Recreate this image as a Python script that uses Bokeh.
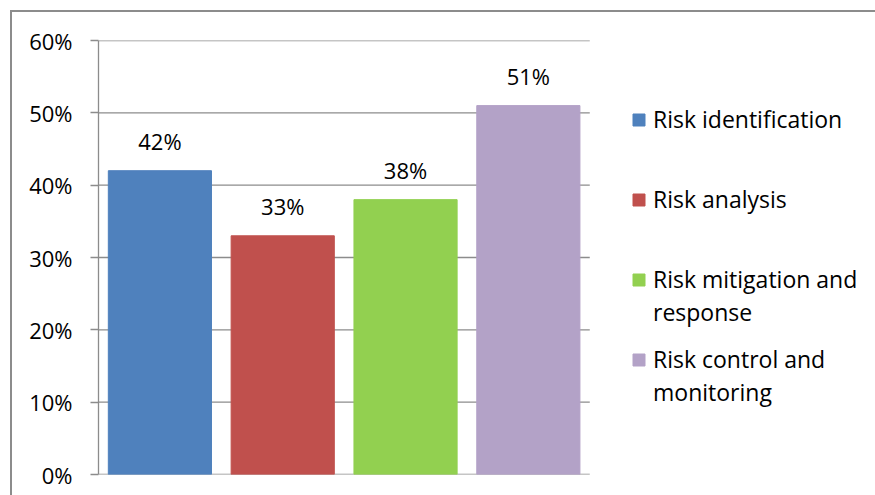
from bokeh.plotting import figure
from bokeh.models import ColumnDataSource, Legend, LegendItem, NumeralTickFormatter, FixedTicker, Range1d
from bokeh.core.properties import value
from bokeh.embed import file_html
from bokeh.resources import INLINE

categories = ["Risk identification", "Risk analysis", "Risk mitigation and response", "Risk control and monitoring"]
legend_lines = [["Risk identification"], ["Risk analysis"], ["Risk mitigation and", "response"],
                ["Risk control and", "monitoring"]]
values = [0.42, 0.33, 0.38, 0.51]
value_labels = ["42%", "33%", "38%", "51%"]
colors = ["#4F81BD", "#C0504D", "#92D050", "#B3A2C7"]
y_ticks = [0, 0.1, 0.2, 0.3, 0.4, 0.5, 0.6]

FONT = "Open Sans"
GRAY = "#8C8C8C"

# layout (pixels)
W, H = 863, 483
LEFT, TOP, BOTTOM = 86, 28, 23
PLOT_W = 490                     # width of the bar area
FRAME_W = W - LEFT
FRAME_H = H - TOP - BOTTOM
LEG_X = 533                      # legend x from frame left
LEG_FIRST = [77, 157, 237, 317]  # first-line centre of each entry, from frame top
LINE_STEP = 33
ITEM_H = 32

n = len(categories)
xs = list(range(n))
source = ColumnDataSource(dict(x=xs, cat=categories, val=values, lab=value_labels, col=colors))

x_end = -0.5 + n * FRAME_W / PLOT_W
p = figure(x_range=Range1d(-0.5, x_end), y_range=Range1d(0, 0.6), width=W, height=H,
           output_backend="svg", toolbar_location=None,
           min_border_left=LEFT, min_border_right=0, min_border_top=TOP, min_border_bottom=BOTTOM)
p.margin = (10, 0, 0, 10)
p.styles = {"border-top": "2px solid #8C8C8C", "border-left": "2px solid #8C8C8C", "box-sizing": "content-box"}

# horizontal gridlines limited to the bar area
p.segment(x0=[-0.5] * len(y_ticks), x1=[n - 0.5] * len(y_ticks), y0=y_ticks, y1=y_ticks,
          line_color=GRAY, line_width=1.3)

bars = p.vbar(x="x", top="val", width=0.84, color="col", source=source)
p.text(x="x", y="val", text="lab", source=source, text_align="center", text_baseline="bottom",
       y_offset=-15, text_font=value(FONT), text_font_size="22px", text_color="black")

# invisible renderer used for continuation lines of the legend labels
blank = p.vbar(x=[], top=[], width=0.5, fill_alpha=0, line_alpha=0)

p.outline_line_color = None
p.background_fill_color = "white"
p.border_fill_color = "white"
p.grid.grid_line_color = None

p.xaxis.visible = False

p.yaxis.ticker = FixedTicker(ticks=y_ticks)
p.yaxis.formatter = NumeralTickFormatter(format="0%")
p.yaxis.axis_line_color = GRAY
p.yaxis.axis_line_width = 1.3
p.yaxis.major_tick_line_color = GRAY
p.yaxis.major_tick_line_width = 1.3
p.yaxis.major_tick_out = 8
p.yaxis.major_tick_in = 0
p.yaxis.minor_tick_line_color = None
p.yaxis.major_label_text_font = FONT
p.yaxis.major_label_text_font_size = "22px"
p.yaxis.major_label_text_color = "black"
p.yaxis.major_label_standoff = 18

for i in range(n):
    lines = legend_lines[i]
    items = [LegendItem(label=lines[0], renderers=[bars], index=i)]
    items += [LegendItem(label=t, renderers=[blank]) for t in lines[1:]]
    bottom_from_top = LEG_FIRST[i] + ITEM_H / 2 + (len(lines) - 1) * LINE_STEP
    lg = Legend(items=items, location=(LEG_X, FRAME_H - bottom_from_top), margin=0, padding=0,
                border_line_color=None, background_fill_alpha=0,
                glyph_width=15, glyph_height=15, label_standoff=7,
                spacing=LINE_STEP - ITEM_H, label_height=ITEM_H,
                label_text_font=FONT, label_text_font_size="23px", label_text_color="black")
    p.add_layout(lg, "center")

open("out.html", "w").write(file_html(p, INLINE))
